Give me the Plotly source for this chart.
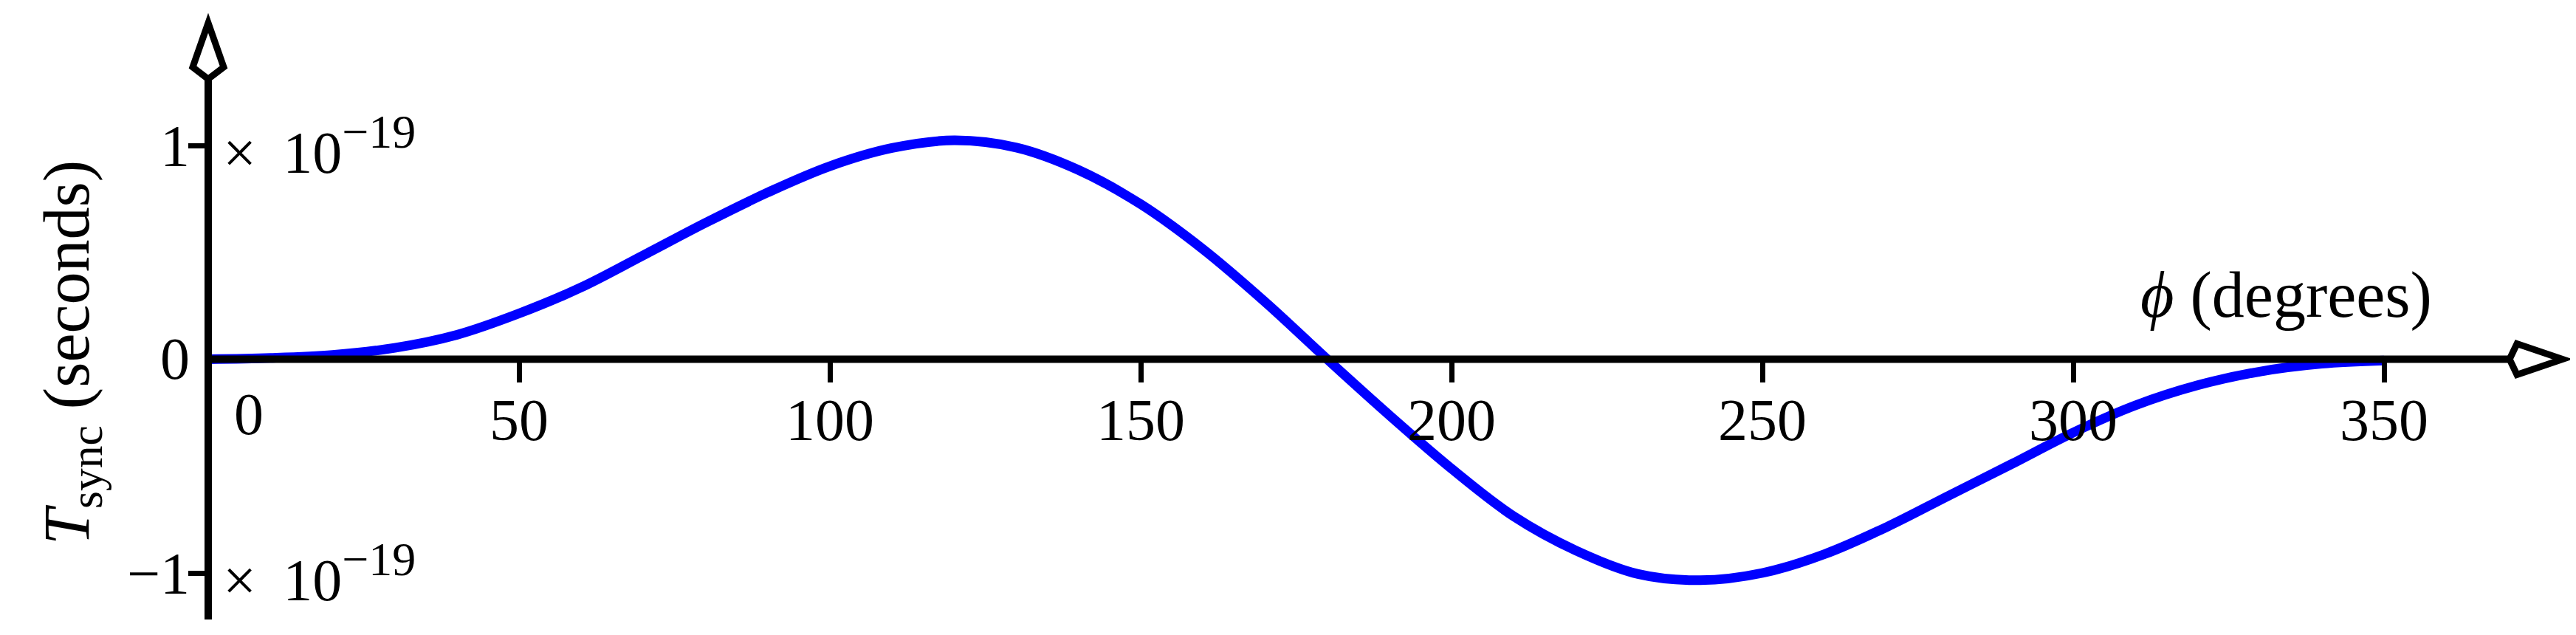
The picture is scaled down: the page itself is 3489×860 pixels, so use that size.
import plotly.graph_objects as go

# ---- data ----
phi_deg = [0, 10, 20, 30, 40, 50, 60, 70, 80, 90, 100, 110, 120, 130, 140, 150, 160, 170,
           180, 190, 200, 210, 220, 230, 240, 250, 260, 270, 280, 290, 300, 310, 320, 330, 340, 350]
t_sync_e19 = [0.000, 0.006, 0.020, 0.053, 0.114, 0.214, 0.336, 0.486, 0.638, 0.780, 0.903, 0.988,
              1.024, 0.990, 0.885, 0.725, 0.515, 0.268, 0.000, -0.262, -0.512, -0.735, -0.895,
              -1.005, -1.034, -1.000, -0.912, -0.785, -0.638, -0.492, -0.343, -0.216, -0.122,
              -0.058, -0.021, -0.006]
x_tick_vals = [50, 100, 150, 200, 250, 300, 350]
x_tick_text = ["50", "100", "150", "200", "250", "300", "350"]
y_tick_vals = [1, -1]
y_tick_text = ["1", "\u22121"]

W, H = 3489, 860
FONT = "Liberation Serif"
FS = 80
FS_TITLE = 88

# pixel geometry of the axes crossing
X0_PX, PX_PER_DEG = 274.0, 8.42
Y0_PX, PX_PER_UNIT = 478.5, 289.5
x_range = [-X0_PX / PX_PER_DEG, (W - X0_PX) / PX_PER_DEG]
y_range = [-(H - Y0_PX) / PX_PER_UNIT, Y0_PX / PX_PER_UNIT]

def px_x(p):
    return p / W

def px_y(p):
    return 1 - p / H

X_AXIS_END = (3391 - X0_PX) / PX_PER_DEG
Y_AXIS_TOP = (Y0_PX - 99) / PX_PER_UNIT
Y_AXIS_BOT = -(831 - Y0_PX) / PX_PER_UNIT

fig = go.Figure()
fig.add_trace(go.Scatter(x=phi_deg, y=t_sync_e19, mode="lines",
                         line=dict(color="#0000FF", width=13, shape="spline", smoothing=1.0),
                         showlegend=False, hoverinfo="skip"))

axis_common = dict(showgrid=False, zeroline=False, showline=False, anchor="free",
                   ticks="outside", tickcolor="black",
                   tickfont=dict(family=FONT, size=FS, color="black"))

fig.update_layout(
    width=W, height=H, margin=dict(l=0, r=0, t=0, b=0), autosize=False,
    paper_bgcolor="white", plot_bgcolor="white",
    xaxis=dict(range=x_range, domain=[0, 1], position=1 - Y0_PX / H,
               tickvals=x_tick_vals, ticktext=x_tick_text, ticklen=30, tickwidth=7,
               ticklabelstandoff=-18, **axis_common),
    yaxis=dict(range=y_range, domain=[0, 1], position=X0_PX / W,
               tickvals=y_tick_vals, ticktext=y_tick_text, ticklen=27, tickwidth=7,
               ticklabelstandoff=-18, **axis_common),
)

# axis lines
fig.add_shape(type="line", xref="x", yref="y", x0=0, x1=X_AXIS_END, y0=0, y1=0,
              line=dict(color="black", width=10))
fig.add_shape(type="line", xref="x", yref="y", x0=0, x1=0, y0=Y_AXIS_BOT, y1=Y_AXIS_TOP,
              line=dict(color="black", width=10))
# open arrowheads
fig.add_shape(type="path", xref="x", yref="y", xsizemode="pixel", ysizemode="pixel",
              xanchor=X_AXIS_END, yanchor=0,
              path="M 0,0 L 10,21 L 72,0 L 10,-21 Z",
              line=dict(color="black", width=9), fillcolor="white")
fig.add_shape(type="path", xref="x", yref="y", xsizemode="pixel", ysizemode="pixel",
              xanchor=0, yanchor=Y_AXIS_TOP,
              path="M 0,0 L 21,16 L 0,76 L -21,16 Z",
              line=dict(color="black", width=9), fillcolor="white")

tf = dict(family=FONT, size=FS, color="black")
tft = dict(family=FONT, size=FS_TITLE, color="black")
ann = []
# "0" labels near the origin
ann.append(dict(x=px_x(329), y=px_y(553), xref="paper", yref="paper", text="0",
                showarrow=False, xanchor="center", yanchor="middle", font=tf))
ann.append(dict(x=px_x(251), y=px_y(478), xref="paper", yref="paper", text="0",
                showarrow=False, xanchor="right", yanchor="middle", font=tf))
# exponent factors
for yv in (1, -1):
    ann.append(dict(x=px_x(292), y=yv, xref="paper", yref="y",
                    text="\u00d7\u2009 10<sup><span style='font-size:64px'>\u221219</span></sup>",
                    showarrow=False, xanchor="left", yanchor="middle", font=tf))
# axis titles
ann.append(dict(x=px_x(3088), y=px_y(392), xref="paper", yref="paper",
                text="<i>\u03d5</i> (degrees)", showarrow=False,
                xanchor="center", yanchor="middle", font=tft))
ann.append(dict(x=px_x(88), y=px_y(470), xref="paper", yref="paper",
                text="<i>T</i><sub>sync</sub> (seconds)", showarrow=False, textangle=-90,
                xanchor="center", yanchor="middle", font=tft))
fig.update_layout(annotations=ann)

fig.write_html("out.html")
